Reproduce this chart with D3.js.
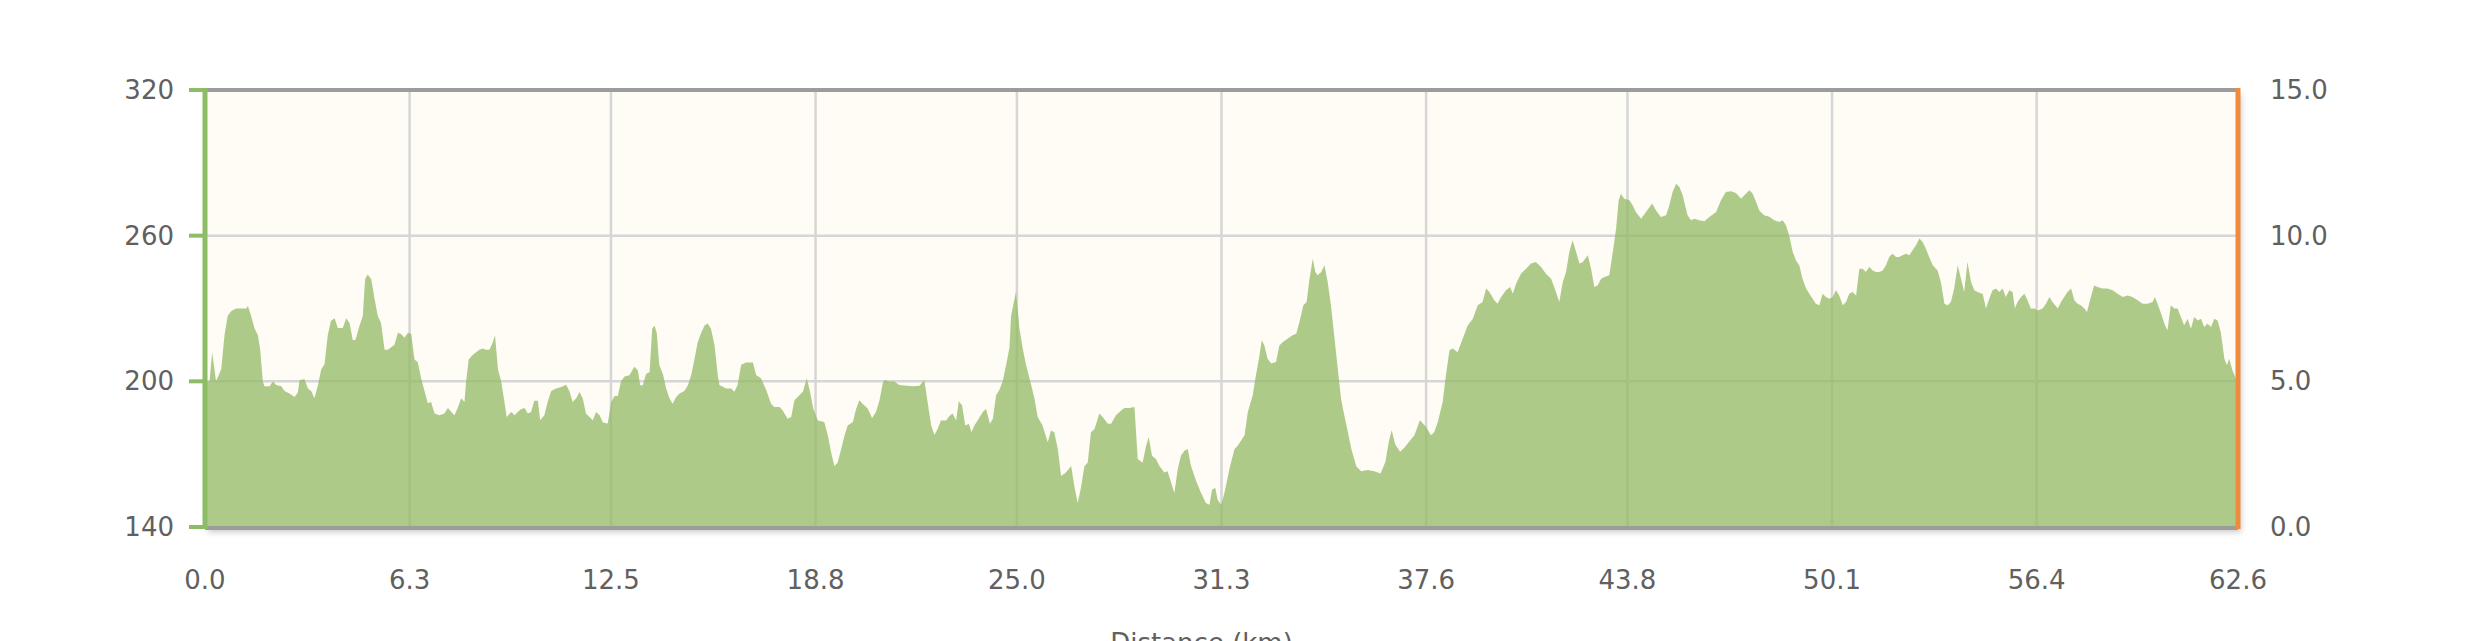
<!DOCTYPE html>
<html>
<head>
<meta charset="utf-8">
<script src="https://cdn.jsdelivr.net/npm/d3@7/dist/d3.min.js"></script>
<style>
  html, body { margin: 0; padding: 0; background: #ffffff; }
  svg { display: block; }
</style>
</head>
<body>
<svg id="chart" width="2480" height="641"></svg>
<script>
// ---------- data ----------
const distance = [
  0,0.14,0.22,0.34,0.50,0.60,0.70,0.81,0.96,1.27,1.32,1.42,1.52,1.63,1.70,1.78,1.83,1.99,2.09,2.19,
  2.35,2.45,2.60,2.76,2.86,2.91,3.06,3.17,3.27,3.37,3.47,3.58,3.68,3.78,3.88,3.99,4.09,4.24,4.35,4.45,
  4.55,4.63,4.76,4.86,4.93,5.01,5.12,5.22,5.32,5.42,5.53,5.63,5.73,5.83,5.94,6.04,6.14,6.25,6.35,6.45,
  6.55,6.66,6.76,6.86,6.96,7.07,7.22,7.37,7.48,7.58,7.68,7.78,7.89,7.99,8.04,8.12,8.25,8.35,8.45,8.55,
  8.66,8.76,8.86,8.93,9.02,9.12,9.22,9.29,9.43,9.53,9.63,9.73,9.84,9.94,10.04,10.14,10.25,10.32,10.45,10.55,
  10.66,10.81,10.97,11.12,11.22,11.32,11.43,11.53,11.63,11.73,11.84,11.94,12.04,12.15,12.25,12.40,12.51,12.61,12.71,12.81,
  12.92,13.07,13.22,13.33,13.40,13.48,13.58,13.69,13.77,13.84,13.91,13.99,14.10,14.20,14.30,14.40,14.51,14.61,14.76,14.87,
  14.97,15.07,15.17,15.28,15.38,15.48,15.58,15.69,15.79,
  15.84,16.05,16.20,16.30,16.40,16.51,16.66,16.87,16.97,17.12,17.28,17.43,17.53,17.69,17.79,17.94,18.05,18.15,18.30,18.41,
  18.53,18.63,18.73,18.87,19.07,19.18,19.28,19.38,19.48,19.59,19.69,19.79,19.95,20.05,20.15,20.25,20.41,20.54,20.66,20.77,
  20.87,20.92,21.07,21.23,21.38,21.59,21.79,22.00,22.15,22.25,22.36,22.46,22.56,22.66,22.82,22.92,23.02,23.13,23.21,23.31,
  23.41,23.52,23.60,23.69,23.79,23.95,24.05,24.17,24.26,24.36,24.46,24.56,24.67,24.77,24.82,24.97,25.08,25.18,25.28,25.44,
  25.54,25.64,25.79,25.95,26.05,26.15,26.26,26.36,26.51,26.67,26.77,26.87,26.97,27.08,27.18,27.28,27.39,27.54,27.64,27.80,
  27.90,28.05,28.21,28.31,28.46,28.62,28.72,28.87,28.98,29.06,29.16,29.28,29.39,29.54,29.64,29.75,29.85,29.95,30.05,30.16,
  30.26,30.36,30.52,30.67,30.82,30.93,31.01,31.11,31.18,31.29,31.39,31.54,31.70,31.80,
  32.01,32.11,32.26,32.36,32.47,32.54,32.62,32.72,32.83,32.98,33.08,33.19,33.34,33.49,33.60,33.70,33.82,33.92,34.01,34.11,
  34.19,34.26,34.37,34.47,34.57,34.67,34.78,34.88,34.98,35.08,35.19,35.30,35.45,35.60,35.80,36.00,36.20,36.35,36.45,36.54,
  36.65,36.80,36.95,37.10,37.24,37.41,37.60,37.75,37.85,37.96,38.11,38.21,38.32,38.42,38.57,38.73,38.88,39.04,39.19,39.34,
  39.45,39.55,39.70,39.80,39.91,40.06,40.19,40.27,40.37,40.52,40.68,40.83,40.98,41.14,41.29,41.45,41.58,41.70,41.81,41.91,
  42.01,42.11,42.22,42.32,42.42,42.58,42.68,42.78,42.88,42.99,43.09,43.24,43.35,43.45,43.53,43.60,43.70,43.86,43.96,44.06,
  44.22,44.37,44.56,44.68,44.83,44.99,45.09,45.19,45.30,45.40,45.50,45.65,45.76,45.86,46.01,46.17,46.32,46.53,46.68,46.83,
  46.99,47.14,47.30,47.40,
  47.55,47.65,47.76,47.86,48.01,48.17,48.32,48.48,48.58,48.68,48.78,48.89,48.99,49.09,49.19,49.30,49.40,49.50,49.60,49.71,
  49.81,49.91,50.01,50.12,50.22,50.32,50.43,50.53,50.63,50.73,50.84,50.94,51.04,51.14,51.25,51.35,51.45,51.55,51.66,51.76,
  51.86,51.96,52.07,52.17,52.27,52.38,52.48,52.58,52.68,52.79,52.89,52.99,53.09,53.20,53.35,53.45,53.56,53.66,53.76,53.86,
  53.97,54.07,54.17,54.27,54.38,54.48,54.58,54.74,54.84,54.94,55.04,55.15,55.25,55.35,55.45,55.56,55.66,55.73,55.81,55.92,
  56.02,56.12,56.22,56.33,56.43,56.58,56.69,56.79,56.89,57.05,57.15,57.25,57.35,57.46,57.56,57.66,57.76,57.87,57.95,58.07,
  58.17,58.28,58.43,58.58,58.74,58.89,59.05,59.20,59.35,59.51,59.66,59.82,59.97,60.04,60.14,60.25,60.35,60.43,60.53,60.64,
  60.74,60.84,60.94,61.05,61.15,61.25,61.36,61.46,61.56,61.66,61.77,61.87,61.97,62.07,62.18,62.26,62.33,62.43,62.54,62.60
];
const elevation = [
  200,200,212,200,205,219,227,229,230,230,231,227,222,219,213,200,198,198,200,198.5,
  198,196,195,193.5,195.5,200.4,201,197,196,193,198,205,207,219,225,226,222,222,226,224,
  217,217,223,227,242,244,242,234,227,224,213,213,214,215,220,219.5,218,220,219.5,209,
  208,201,196,191,191.5,186.7,186,186.7,189,187.5,186,189,193,191.5,200,209,211,212,213,213.5,
  213,213,216,219,205,200,191.5,185.3,187.4,186,187.4,188.5,189,186.7,187.4,192,192,184,186,191.5,
  196,197,197.7,198.6,196,191.5,193,195.6,193,186.7,185.3,184,187.4,186,183,182.6,191.5,194,194,200,
  202,202.5,206,204.5,198.4,198.4,203,203.8,221.7,223,220,206.6,203,197,193,190.8,193.5,195,196,198.4,
  202.5,209,216,220,223,223.8,221.7,214.8,202.5,
  198.5,197,197,195.7,198.5,206.8,207.8,207.8,202.6,201.3,196.4,190.8,189.4,189.4,188,184.6,185.3,192.2,194.3,195.7,
  201.3,195.7,188.7,183.9,183.2,177.6,170.7,165.1,166.5,172.1,177.6,181.8,183.2,188.7,192.2,190.8,188.7,184.9,187.4,192.2,
  199.2,200.6,199.9,199.9,198.5,198.2,198,198.2,200.6,191.5,181.8,177.9,180.4,183.9,183.9,185.7,186.7,183.9,191.8,190.1,
  181.8,182.5,179,181.8,183.9,187.4,188.7,182.5,184.6,194.3,196.4,199.9,206.8,213.8,227,236.8,221.7,213.5,206.8,198.5,
  192.9,185.3,181.8,174.9,179.7,179,172.1,161,162.4,165.1,156.8,149.9,156,165.1,166.5,179,180.4,186.7,185.3,182.5,
  182.5,186,188,189,189,189.4,168,166.5,173.5,177,169.3,168,165.1,162.4,163,158.2,154,163.7,169.3,171.4,
  172.1,165.1,158.9,154,149.9,149.2,155.4,156.1,151.2,149.2,154,163.7,172.1,173.5,
  177.8,187.4,194.2,202.5,210.7,216.9,214.8,209.3,207.3,208,214.8,216.2,217.6,219,219.6,224.4,231.3,232.7,242.3,250.5,
  245,243.7,245,247.8,240.9,231.3,217.6,205.2,192.9,186,179.1,172,165,163,163.5,163,162,167,175,179.8,
  174,171,173,175.5,177.8,184,181.2,177.8,179,183.2,191.5,202.5,212.8,213.5,212,217.6,223,225.8,231.3,232.7,
  238.2,236.8,233.4,232,234.7,237.5,238.9,236.1,240.2,244.3,246.4,248.5,249.2,247.1,244.3,242.3,237.5,232.7,240.9,245,
  253.3,258.1,253.3,248.5,249,251.9,246.4,238.9,239.5,242.3,243,243.7,253.3,262.9,274.6,277.3,275.2,274.6,272.5,269.7,
  267,269.7,273.2,270.4,267.7,268.4,272.5,278,281.4,280,276.6,268.4,266.3,267,266.3,265.9,267.7,269.7,274.6,278,
  278.3,277.6,275.2,276.6,
  278.7,277.5,273.9,270.4,268.4,267.8,266.3,265.6,266.3,264.3,260.1,253.3,249.8,247.8,242.3,238.2,236.1,234,232,231.3,
  236.1,234.7,234,234.7,237.5,235.4,231.3,232.7,236.1,236.8,235.4,246.4,246.4,245,247.1,245.7,245,245,245.7,247.8,
  251.2,252.6,251.2,251.2,251.9,252.6,251.9,254,256,258.8,257.4,254.6,251.2,247.8,245.7,240.9,232,231.3,232.7,238.2,
  247.8,242.3,236.8,249.2,240.9,237.5,236.8,236,230,234,237.5,238.2,236.8,238.2,234.7,237.5,236.8,230,232.7,234.7,
  236.1,233.4,230,230,229.2,230,232,234.7,232.7,230,232.7,234.7,236.8,238.2,233.4,232,231.3,230,228.6,234.7,
  239.5,238.9,238.2,238.2,237.5,236.1,234.7,235.4,234.7,233.4,232,232,232.7,234.7,231.3,227.2,223.1,221,231.3,230,
  230,226.5,223.1,225.8,221.7,226.5,225.1,225.8,222.4,223.8,222.4,225.8,225.1,220.3,209.3,206.6,209.3,204.5,201.1,200.5
];
const xTickValues = [0, 6.3, 12.5, 18.8, 25.0, 31.3, 37.6, 43.8, 50.1, 56.4, 62.6];
const leftTickValues = [140, 200, 260, 320];
const rightTickValues = [0, 5, 10, 15];
const xTitle = "Distance (km)";

// ---------- layout ----------
const svg = d3.select("#chart");
const L = 205, R = 2238, T = 90, B = 527;
const x = d3.scaleLinear().domain([0, 62.6]).range([L, R]);
const y = d3.scaleLinear().domain([140, 320]).range([B, T]);
const yR = d3.scaleLinear().domain([0, 15]).range([B, T]);
const font = "'DejaVu Sans', Verdana, sans-serif";
const labelColor = "#606060";

const defs = svg.append("defs");
const f = defs.append("filter").attr("id", "shadow")
  .attr("x", "-2%").attr("y", "-5%").attr("width", "104%").attr("height", "115%");
f.append("feDropShadow").attr("dx", 3).attr("dy", 5).attr("stdDeviation", 3)
  .attr("flood-color", "#000").attr("flood-opacity", 0.22);

// plot background with shadow
svg.append("rect").attr("x", L).attr("y", T).attr("width", R - L).attr("height", B - T)
  .attr("fill", "#FEFCF4").attr("filter", "url(#shadow)");

// gridlines
const grid = svg.append("g");
grid.selectAll("line.v").data(xTickValues.slice(1, -1)).join("line")
  .attr("x1", d => x(d)).attr("x2", d => x(d)).attr("y1", T).attr("y2", B)
  .attr("stroke", "#D6D6D6").attr("stroke-width", 2.5);
grid.selectAll("line.h").data(leftTickValues.slice(1, -1)).join("line")
  .attr("x1", L).attr("x2", R).attr("y1", d => y(d)).attr("y2", d => y(d))
  .attr("stroke", "#D6D6D6").attr("stroke-width", 2.5);

// area
const pts = distance.map((d, i) => [d, elevation[i]]);
const area = d3.area().x(d => x(d[0])).y0(y(140)).y1(d => y(d[1]));
svg.append("path").datum(pts).attr("d", area)
  .attr("fill", "#93B965").attr("fill-opacity", 0.75);

// plot border top/bottom
svg.append("line").attr("x1", L).attr("x2", R).attr("y1", T).attr("y2", T)
  .attr("stroke", "#9C9C9C").attr("stroke-width", 4);
svg.append("line").attr("x1", L).attr("x2", R).attr("y1", B + 1).attr("y2", B + 1)
  .attr("stroke", "#9C9C9C").attr("stroke-width", 4);

// left axis
const green = "#8CBD66";
svg.append("line").attr("x1", L).attr("x2", L).attr("y1", T - 2).attr("y2", B + 2)
  .attr("stroke", green).attr("stroke-width", 5);
svg.selectAll("line.lt").data(leftTickValues).join("line")
  .attr("x1", L - 16).attr("x2", L).attr("y1", d => y(d)).attr("y2", d => y(d))
  .attr("stroke", green).attr("stroke-width", 4);
svg.selectAll("text.lt").data(leftTickValues).join("text")
  .attr("x", 174).attr("y", d => y(d)).attr("text-anchor", "end")
  .attr("dominant-baseline", "central")
  .attr("font-family", font).attr("font-size", 26).attr("fill", labelColor)
  .text(d => d3.format("d")(d));

// right axis
svg.append("line").attr("x1", R).attr("x2", R).attr("y1", T - 2).attr("y2", B + 2)
  .attr("stroke", "#F08A3C").attr("stroke-width", 5);
svg.selectAll("text.rt").data(rightTickValues).join("text")
  .attr("x", 2270).attr("y", d => yR(d)).attr("text-anchor", "start")
  .attr("dominant-baseline", "central")
  .attr("font-family", font).attr("font-size", 26).attr("fill", labelColor)
  .text(d => d3.format(".1f")(d));

// x labels
svg.selectAll("text.xt").data(xTickValues).join("text")
  .attr("x", d => x(d)).attr("y", 580).attr("text-anchor", "middle")
  .attr("dominant-baseline", "central")
  .attr("font-family", font).attr("font-size", 26).attr("fill", labelColor)
  .text(d => d3.format(".1f")(d));

// x axis title (mostly below visible area)
svg.append("text").attr("x", (L + R) / 2 - 20).attr("y", 652).attr("text-anchor", "middle")
  .attr("font-family", font).attr("font-size", 26).attr("fill", labelColor)
  .text(xTitle);
</script>
</body>
</html>
